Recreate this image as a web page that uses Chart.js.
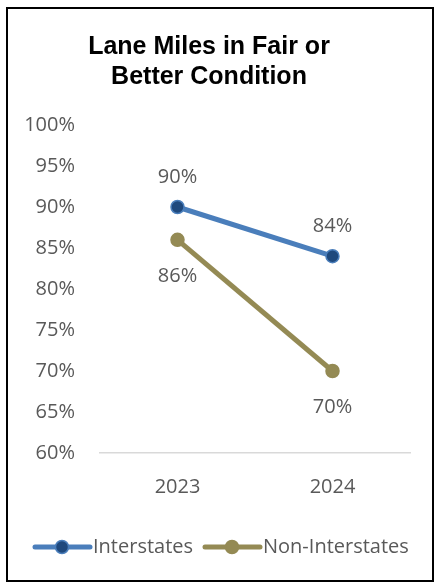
<!DOCTYPE html>
<html lang="en">
    <head>
        <meta charset="utf-8" />
        <script src="https://cdn.jsdelivr.net/npm/chart.js@4.4.0/dist/chart.umd.min.js"></script>
        <title>Lane Miles in Fair or Better Condition</title>
        <style>
            body { margin: 0; background: #fff; }
            #caja { position: relative; width: 434px; height: 583px; }
            #marco { position: absolute; left: 6px; top: 7px; width: 424px; height: 571px; border: 2px solid #000; }
        </style>
    </head>
    <body>
        <div id="caja">
            <canvas id="lineas" width="434" height="583"></canvas>
            <div id="marco"></div>
        </div>
        <script>
            var years = ["2023", "2024"];
            var interstates = [90, 84];
            var nonInterstates = [86, 70];
            var seriesNames = ["Interstates", "Non-Interstates"];
            var labelSide = [["above", "above"], ["below", "below"]];

            var gris = "#595959";
            var fuente = "'Open Sans', sans-serif";

            // etiquetas de datos encima/debajo de cada punto
            var etiquetas = {
                id: "etiquetas",
                afterDatasetsDraw(chart) {
                    var ctx = chart.ctx;
                    ctx.save();
                    ctx.font = "20px " + fuente;
                    ctx.fillStyle = gris;
                    ctx.textAlign = "center";
                    ctx.textBaseline = "middle";
                    chart.data.datasets.forEach((ds, i) => {
                        chart.getDatasetMeta(i).data.forEach((p, j) => {
                            var dy = labelSide[i][j] === "above" ? -30 : 36;
                            ctx.fillText(ds.data[j] + "%", p.x, p.y + dy);
                        });
                    });
                    ctx.restore();
                },
            };

            // leyenda abajo con linea y marcador
            var leyenda = {
                id: "leyenda",
                afterDraw(chart) {
                    var ctx = chart.ctx;
                    var y = 547;
                    var xs = [35, 205];
                    ctx.save();
                    ctx.font = "20px " + fuente;
                    ctx.textBaseline = "middle";
                    chart.data.datasets.forEach((ds, i) => {
                        var x = xs[i];
                        ctx.strokeStyle = ds.borderColor;
                        ctx.lineWidth = 5;
                        ctx.lineCap = "round";
                        ctx.beginPath();
                        ctx.moveTo(x, y);
                        ctx.lineTo(x + 55, y);
                        ctx.stroke();
                        ctx.beginPath();
                        ctx.arc(x + 27, y, 6.5, 0, Math.PI * 2);
                        ctx.fillStyle = ds.pointBackgroundColor;
                        ctx.fill();
                        ctx.lineWidth = 1.5;
                        ctx.strokeStyle = ds.pointBorderColor;
                        ctx.stroke();
                        ctx.fillStyle = gris;
                        ctx.fillText(ds.label, x + 58, y);
                    });
                    ctx.restore();
                },
            };

            new Chart(document.getElementById("lineas"), {
                type: "line",
                data: {
                    labels: years,
                    datasets: [
                        {
                            label: seriesNames[0],
                            data: interstates,
                            borderColor: "#4a7ebb",
                            borderWidth: 5,
                            pointBackgroundColor: "#1f497d",
                            pointBorderColor: "#4a7ebb",
                            pointBorderWidth: 1.5,
                            pointRadius: 6.5,
                        },
                        {
                            label: seriesNames[1],
                            data: nonInterstates,
                            borderColor: "#948a54",
                            borderWidth: 5,
                            pointBackgroundColor: "#948a54",
                            pointBorderColor: "#948a54",
                            pointBorderWidth: 1.5,
                            pointRadius: 6.5,
                        },
                    ],
                },
                options: {
                    responsive: false,
                    animation: false,
                    layout: { padding: { left: 8, right: 24, top: 8, bottom: 70 } },
                    scales: {
                        x: {
                            offset: true,
                            grid: { display: false },
                            border: { display: true, color: "#d9d9d9", width: 1.5 },
                            ticks: { color: gris, font: { family: fuente, size: 20 }, padding: 14 },
                        },
                        y: {
                            min: 60,
                            max: 100,
                            afterFit: function (scale) { scale.width = 92; },
                            grid: { display: false },
                            border: { display: false },
                            ticks: {
                                stepSize: 5,
                                color: gris,
                                padding: 17,
                                font: { family: fuente, size: 20 },
                                callback: function (v) { return v + "%"; },
                            },
                        },
                    },
                    plugins: {
                        legend: { display: false },
                        tooltip: { enabled: false },
                        title: {
                            display: true,
                            text: ["Lane Miles in Fair or", "Better Condition"],
                            color: "#000",
                            font: { family: "'Liberation Sans', Arial, sans-serif", size: 25, weight: "bold", lineHeight: 1.2 },
                            padding: { top: 24, bottom: 33 },
                        },
                    },
                },
                plugins: [etiquetas, leyenda],
            });
        </script>
    </body>
</html>
